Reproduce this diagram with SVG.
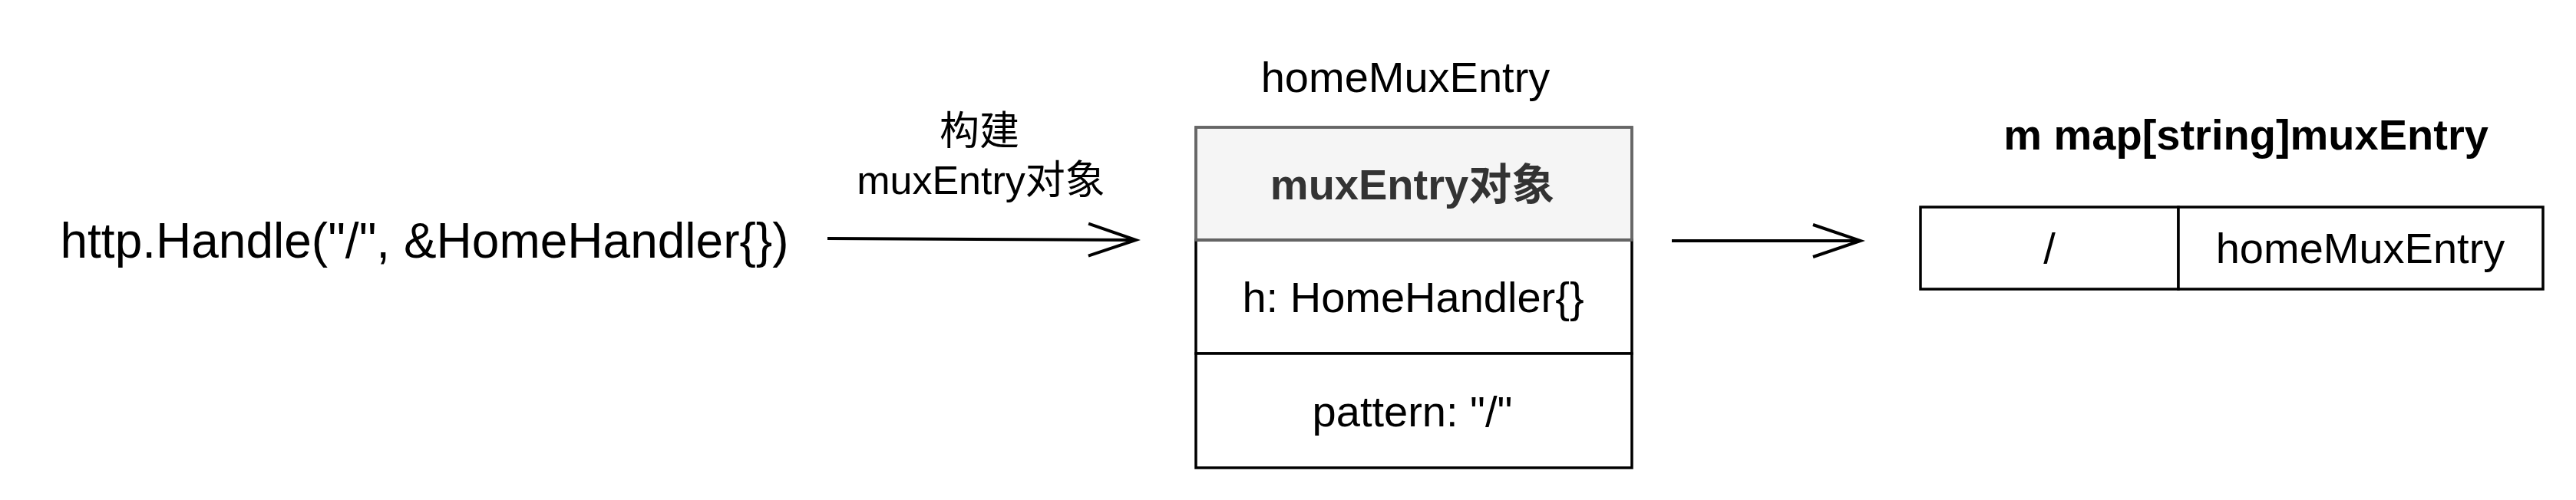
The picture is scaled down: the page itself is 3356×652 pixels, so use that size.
<svg xmlns="http://www.w3.org/2000/svg" width="3356" height="652" viewBox="0 0 3356 652">
<defs>
<style>
text{font-family:"Liberation Sans","Noto Sans CJK SC",Arial,sans-serif;fill:#000}
.t56{font-size:56px;text-anchor:middle}
.b56{font-size:56px;font-weight:bold;text-anchor:middle}
.lbl{font-size:52px;text-anchor:middle}
.cell{fill:#fff;stroke:#000;stroke-width:3.5}
.conn{stroke:#000;stroke-width:4;fill:none}
</style>
<marker id="open" markerUnits="userSpaceOnUse" markerWidth="72" markerHeight="54" viewBox="0 0 72 54" refX="66" refY="27" orient="auto">
<path d="M4,6 L66,27 L4,48" fill="none" stroke="#000" stroke-width="4"/>
</marker>
</defs>
<rect width="3356" height="652" fill="#fff"/>
<g id="call">
<text x="553" y="336" style="font-size:64px;text-anchor:middle">http.Handle("/", &amp;HomeHandler{})</text>
</g>
<g id="homeMuxEntry">
<text class="t56" x="1831" y="120">homeMuxEntry</text>
<rect x="1558" y="166" width="568" height="147" fill="#f5f5f5" stroke="#666" stroke-width="3.5"/>
<text class="b56" x="1840" y="260" style="fill:#333">muxEntry对象</text>
<rect class="cell" x="1558" y="313" width="568" height="148"/>
<text class="t56" x="1841" y="407">h: HomeHandler{}</text>
<rect class="cell" x="1558" y="461" width="568" height="149"/>
<text class="t56" x="1840" y="556">pattern: "/"</text>
<rect x="1558" y="166" width="568" height="147" fill="none" stroke="#666" stroke-width="3.5"/>
</g>
<g id="map">
<text class="b56" x="2926" y="195">m map[string]muxEntry</text>
<rect class="cell" x="2502" y="270" width="336" height="107"/>
<rect class="cell" x="2838" y="270" width="475" height="107"/>
<text class="t56" x="2670" y="343">/</text>
<text class="t56" x="3075" y="343">homeMuxEntry</text>
</g>
<g id="connectors">
<path class="conn" d="M1078,311 L1480,313" marker-end="url(#open)"/>
<text class="lbl" x="1276" y="189">构建</text>
<text class="lbl" x="1278" y="253">muxEntry对象</text>
<path class="conn" d="M2178,314 L2424,314" marker-end="url(#open)"/>
</g>
</svg>
